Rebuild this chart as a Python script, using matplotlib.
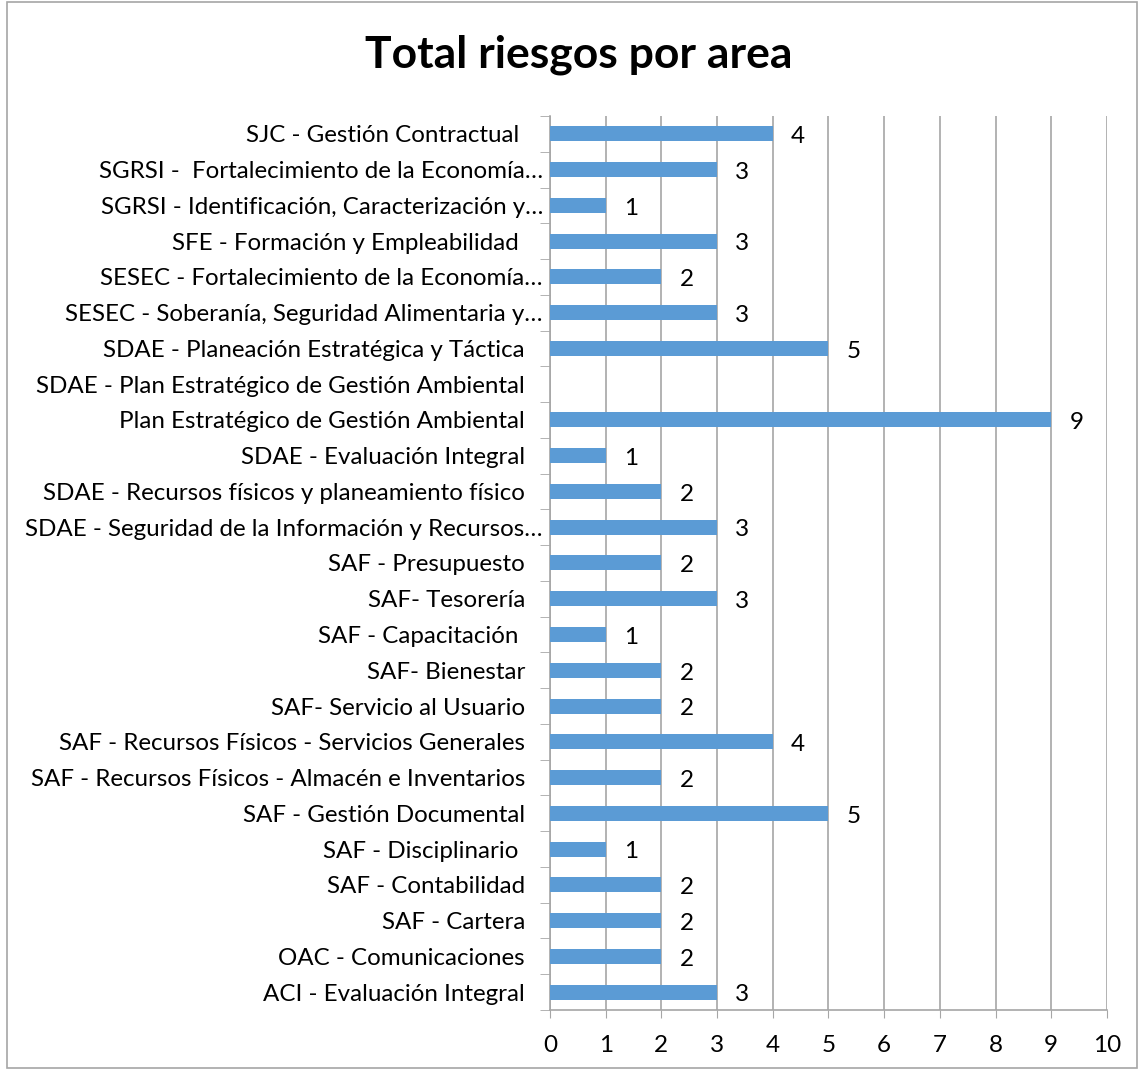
import numpy as np
import matplotlib.pyplot as plt
import matplotlib.transforms as mtransforms
from matplotlib.patches import Rectangle

plt.rcParams['font.family'] = ['Lato', 'DejaVu Sans']

# categories listed top to bottom as in the chart
areas = [
    "SJC - Gestión Contractual ",
    "SGRSI -  Fortalecimiento de la Economía…",
    "SGRSI - Identificación, Caracterización y…",
    "SFE - Formación y Empleabilidad ",
    "SESEC - Fortalecimiento de la Economía…",
    "SESEC - Soberanía, Seguridad Alimentaria y…",
    "SDAE - Planeación Estratégica y Táctica",
    "SDAE - Plan Estratégico de Gestión Ambiental",
    "Plan Estratégico de Gestión Ambiental",
    "SDAE - Evaluación Integral",
    "SDAE - Recursos físicos y planeamiento físico",
    "SDAE - Seguridad de la Información y Recursos…",
    "SAF - Presupuesto",
    "SAF- Tesorería",
    "SAF - Capacitación ",
    "SAF- Bienestar",
    "SAF- Servicio al Usuario",
    "SAF - Recursos Físicos - Servicios Generales",
    "SAF - Recursos Físicos - Almacén e Inventarios",
    "SAF - Gestión Documental",
    "SAF - Disciplinario ",
    "SAF - Contabilidad",
    "SAF - Cartera",
    "OAC - Comunicaciones",
    "ACI - Evaluación Integral",
]
riesgos = [4, 3, 1, 3, 2, 3, 5, np.nan, 9, 1, 2, 3, 2, 3, 1, 2, 2, 4, 2, 5, 1, 2, 2, 2, 3]

bar_color = '#5B9BD5'
grid_color = '#A6A6A6'

fig = plt.figure(figsize=(11.42, 10.7), dpi=100)
fig.patches.append(Rectangle((0.006, 0.002), 0.99, 0.996, transform=fig.transFigure,
                             fill=False, edgecolor='#A6A6A6', linewidth=1.2))
ax = fig.add_axes([0.4816, 0.0561, 0.4877, 0.8355])

n = len(areas)
ypos = np.arange(n)[::-1]
vals = np.nan_to_num(np.array(riesgos, dtype=float))
ax.barh(ypos, vals, height=0.42, color=bar_color, zorder=3)

for y, v in zip(ypos, riesgos):
    if not np.isnan(v):
        ax.annotate(str(int(v)), (v, y), xytext=(13, -2), textcoords='offset points',
                    ha='left', va='center', fontsize=17.5, color='black')

ax.set_xlim(0, 10)
ax.set_ylim(-0.5, n - 0.5)
ax.set_xticks(range(0, 11))
ax.tick_params(axis='x', length=6, color=grid_color, labelsize=17.5, pad=12)
ax.xaxis.grid(True, color=grid_color, linewidth=1.2, zorder=0)

ax.set_yticks(ypos)
ax.set_yticklabels(areas)
ax.set_yticks(np.arange(-0.5, n), minor=True)
ax.tick_params(axis='y', which='major', length=0, labelsize=17.4, pad=18)
ax.tick_params(axis='y', which='minor', length=7, color=grid_color)

# ellipsis-truncated labels sit closer to the axis
shift = mtransforms.ScaledTranslation(18 / 100, 0, fig.dpi_scale_trans)
for lab in ax.get_yticklabels():
    if lab.get_text().endswith('…'):
        lab.set_transform(lab.get_transform() + shift)

for s in ['top', 'right']:
    ax.spines[s].set_visible(False)
for s in ['left', 'bottom']:
    ax.spines[s].set_color(grid_color)
    ax.spines[s].set_linewidth(1.2)

fig.suptitle("Total riesgos por area", fontsize=32, fontweight='bold', x=0.507, y=0.968)

plt.savefig("out.png", dpi=100)
